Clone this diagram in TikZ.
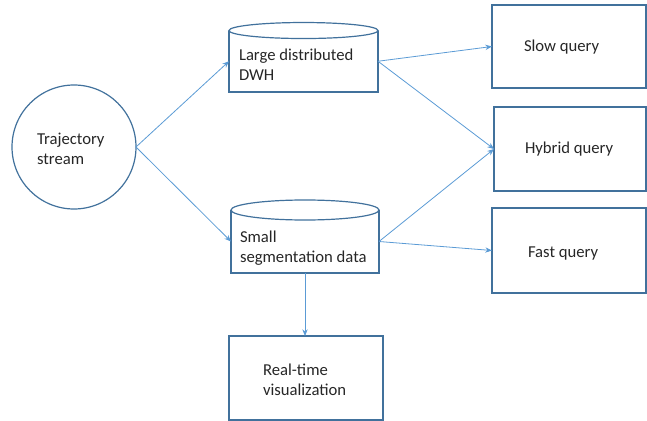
\documentclass[tikz,border=0pt]{standalone}
\usepackage{fontspec}
\setmainfont{Carlito}
\usetikzlibrary{arrows.meta}
\definecolor{edgeblue}{RGB}{65,113,156}
\definecolor{arrowblue}{RGB}{91,155,213}
\begin{document}
\begin{tikzpicture}[x=0.75pt,y=-0.75pt,
  every node/.style={inner sep=0pt, outer sep=0pt},
  shapeline/.style={draw=edgeblue, line width=0.9pt},
  boxnode/.style={shapeline, rectangle, minimum width=115.5pt, minimum height=63pt},
  cylbody/.style={rectangle, minimum width=#1},
  lbl/.style={font=\fontsize{12.5}{15}\selectfont, align=left, text=black!85, anchor=west},
  conn/.style={draw=arrowblue, line width=0.6pt, -{Stealth[length=5pt,width=4pt]}}
]
\useasboundingbox (0,0) rectangle (647,421);
% Trajectory stream
\node[shapeline, circle, minimum size=93pt] (traj) at (74,147) {};
\node[lbl] (trajtxt) at (37,149) {Trajectory\\stream};
% Large distributed DWH cylinder body: x 229..378, y 30.5..92
\node[rectangle, minimum width=111.75pt, minimum height=46.1pt] (dwh) at (303.5,61.25) {};
\draw[shapeline] (dwh.north west) -- (dwh.south west) -- (dwh.south east) -- (dwh.north east);
\draw[shapeline, fill=white] (dwh.north) ellipse [x radius=55.9pt, y radius=6pt];
\node[lbl] (dwhtxt) at (239,65) {Large distributed\\DWH};
% Small segmentation data: x 231..379, y 210..273
\node[rectangle, minimum width=111pt, minimum height=47.25pt] (small) at (305,241.5) {};
\draw[shapeline] (small.north west) -- (small.south west) -- (small.south east) -- (small.north east);
\draw[shapeline, fill=white] (small.north) ellipse [x radius=55.5pt, y radius=7.5pt];
\node[lbl] (smalltxt) at (240,248) {Small\\segmentation data};
% query boxes
\node[boxnode, minimum height=62.25pt] (slow) at (569,46.5) {};
\node[lbl] (slowtxt) at (524,47) {Slow query};
\node[boxnode, minimum width=114pt] (hybrid) at (570,149) {};
\node[lbl] (hybridtxt) at (525,149) {Hybrid query};
\node[boxnode, minimum height=63.75pt] (fast) at (569,250.5) {};
\node[lbl] (fasttxt) at (528,253) {Fast query};
% real-time
\node[boxnode] (rt) at (306,378) {};
\node[lbl] (rttxt) at (263,380) {Real-time\\visualization};
% connectors
\draw[conn] (traj.east) -- (dwh.west);
\draw[conn] (traj.east) -- (small.west);
\draw[conn] (dwh.east) -- (slow.west);
\draw[conn] (dwh.east) -- (hybrid.west);
\draw[conn] (small.east) -- (hybrid.west);
\draw[conn] (small.east) -- (fast.west);
\draw[conn] (small.south) -- (small.south |- rt.north);
\end{tikzpicture}
\end{document}
